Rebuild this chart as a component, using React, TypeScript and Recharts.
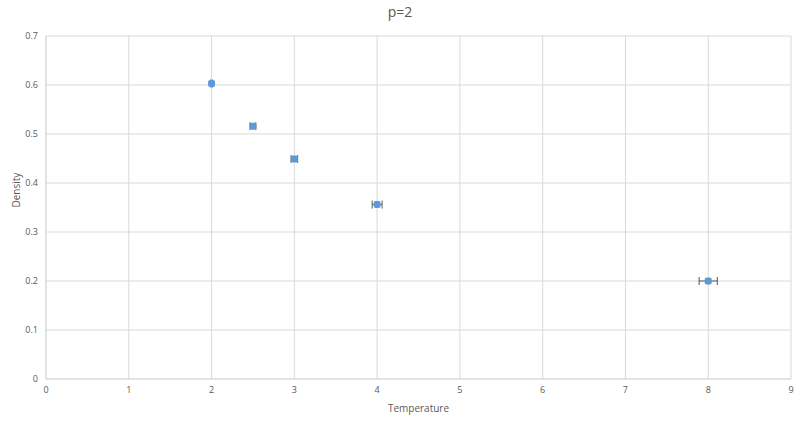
import { ScatterChart, Scatter, XAxis, YAxis, CartesianGrid, ErrorBar } from 'recharts';

const temperatures = [2, 2.5, 3, 4, 8];
const densities = [0.603, 0.516, 0.449, 0.356, 0.2];
const tempErrors = [0.01, 0.035, 0.04, 0.06, 0.11];

const xTicks = [0, 1, 2, 3, 4, 5, 6, 7, 8, 9];
const yTicks = [0, 0.1, 0.2, 0.3, 0.4, 0.5, 0.6, 0.7];

const data = temperatures.map((t, i) => ({ x: t, y: densities[i], xErr: tempErrors[i] }));

const FONT = '"Open Sans", "Liberation Sans", sans-serif';
const TEXT = '#595959';
const GRID = '#d9d9d9';

const Marker = (props: any) => {
    const { cx, cy } = props;
    return <rect x={cx - 3.5} y={cy - 3.5} width={7} height={7} rx={2} fill="#5b9bd5" />;
};

export default function App() {
    return (
        <div style={{ position: 'absolute', left: 0, top: 0, width: 800, height: 423, background: '#fff', fontFamily: FONT }}>
            <div style={{ position: 'absolute', top: 2, left: 0, width: 800, textAlign: 'center', fontSize: 14, color: TEXT }}>
                p=2
            </div>
            <ScatterChart width={800} height={423} margin={{ top: 36, right: 9, left: 0, bottom: 0 }}>
                <CartesianGrid stroke={GRID} strokeWidth={1} />
                <XAxis
                    type="number"
                    dataKey="x"
                    domain={[0, 9]}
                    ticks={xTicks}
                    height={44}
                    stroke={GRID}
                    tickLine={false}
                    tick={{ fill: TEXT, fontSize: 9, fontFamily: FONT }}
                    label={{ value: 'Temperature', position: 'insideBottom', offset: 11, fill: TEXT, fontSize: 10, fontFamily: FONT }}
                />
                <YAxis
                    type="number"
                    dataKey="y"
                    domain={[0, 0.7]}
                    ticks={yTicks}
                    width={46}
                    stroke={GRID}
                    tickLine={false}
                    tick={{ fill: TEXT, fontSize: 9, fontFamily: FONT }}
                    label={{ value: 'Density', angle: -90, position: 'insideLeft', offset: 16, fill: TEXT, fontSize: 10, fontFamily: FONT }}
                />
                <Scatter data={data} shape={<Marker />} isAnimationActive={false}>
                    <ErrorBar dataKey="xErr" direction="x" width={4} stroke="#595959" strokeWidth={1} />
                </Scatter>
            </ScatterChart>
        </div>
    );
}
